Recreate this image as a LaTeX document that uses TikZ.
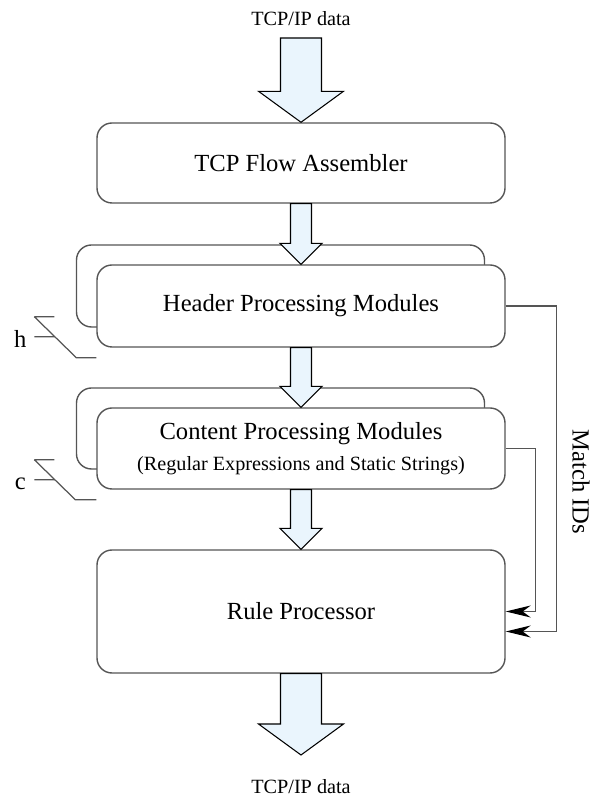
\documentclass[tikz,border=0pt]{standalone}
\usepackage{fontspec}
\setmainfont{Liberation Serif}
\usetikzlibrary{arrows.meta,calc}

\definecolor{pipefill}{RGB}{234,245,253}
\definecolor{edgegray}{RGB}{85,85,85}

\newcommand{\bigfont}{\fontsize{14}{17}\selectfont}
\newcommand{\smallfont}{\fontsize{11.5}{14}\selectfont}

% wide hollow arrow pointing down: from, to, half shaft, half head, head length
\newcommand{\fatarrow}[5]{%
  \filldraw[fatarr] let \p1=(#1), \p2=(#2) in
    (\x1-#3,\y1) -- (\x1+#3,\y1) -- (\x1+#3,\y2+#5) -- (\x1+#4,\y2+#5)
    -- (\x1,\y2) -- (\x1-#4,\y2+#5) -- (\x1-#3,\y2+#5) -- cycle;}

\begin{document}
\begin{tikzpicture}[
    unit/.style={rectangle,rounded corners=0.3cm,draw=edgegray,line width=0.8pt,
      fill=white,minimum width=8.16cm,inner sep=0pt,font=\bigfont,align=center},
    fatarr/.style={draw=black,line width=0.6pt,fill=pipefill,line join=miter},
    idline/.style={draw=edgegray,line width=0.7pt},
    idarrow/.style={idline,-{Stealth[length=0.5cm,width=0.24cm,inset=0.16cm,black]}}]
\useasboundingbox (0,0) rectangle (12.04,16);

% copies behind the header and content stages
\node[unit,minimum height=1.64cm] (hdrback) at (5.61,10.28){};
\node[unit,minimum height=1.62cm] (contback) at (5.61,7.43){};

\node[unit,minimum height=1.6cm] (asm) at (6.02,12.74){TCP Flow Assembler};
\node[unit,minimum height=1.64cm] (hdr) at (6.02,9.88){Header Processing Modules};
\node[unit,minimum height=1.62cm] (cont) at (6.02,7.03)
  {Content Processing Modules\\[1pt]{\smallfont (Regular Expressions and Static Strings)}};
\node[unit,minimum height=2.46cm] (rule) at (6.02,3.77){Rule Processor};

\node[font=\smallfont] (intext) at (6.02,15.62){TCP/IP data};
\node[font=\smallfont] (outtext) at (6.02,0.26){TCP/IP data};
\coordinate (in) at (6.02,15.24);
\coordinate (out) at (6.02,0.9);

\fatarrow{in}{asm.north}{0.41cm}{0.85cm}{0.62cm}
\fatarrow{asm.south}{hdr.north}{0.21cm}{0.42cm}{0.42cm}
\fatarrow{hdr.south}{cont.north}{0.21cm}{0.42cm}{0.42cm}
\fatarrow{cont.south}{rule.north}{0.21cm}{0.42cm}{0.42cm}
\fatarrow{rule.south}{out}{0.41cm}{0.85cm}{0.62cm}

% match IDs fed back into the rule processor
\draw[idarrow] (hdr.east) -- ++(1.02,0) |- ([yshift=-0.4cm]rule.east);
\draw[idarrow] (cont.east) -- ++(0.6,0) |- (rule.east);
\node[font=\bigfont,rotate=-90] (ids) at (11.62,6.36){Match IDs};

% h and c markers
\node[font=\bigfont,anchor=base] (hlab) at ([xshift=-1.52cm]hdr.south west){h};
\draw[idline] ([shift={(-1.24,0.62)}]hdr.south west) -- ++(0.4,0)
  ([shift={(-1.24,0.22)}]hdr.south west) -- ++(0.4,0)
  ([shift={(-1.24,0.62)}]hdr.south west) -- ([shift={(-0.4,-0.2)}]hdr.south west)
  -- ([yshift=-0.2cm]hdr.south west);
\node[font=\bigfont,anchor=base] (clab) at ([xshift=-1.52cm]cont.south west){c};
\draw[idline] ([shift={(-1.24,0.6)}]cont.south west) -- ++(0.4,0)
  ([shift={(-1.24,0.2)}]cont.south west) -- ++(0.4,0)
  ([shift={(-1.24,0.6)}]cont.south west) -- ([shift={(-0.42,-0.2)}]cont.south west)
  -- ([yshift=-0.2cm]cont.south west);
\end{tikzpicture}
\end{document}
